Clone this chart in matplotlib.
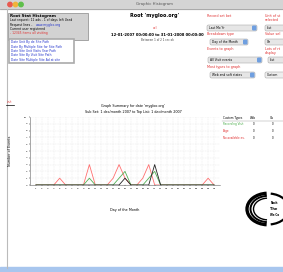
import numpy as np
import matplotlib.pyplot as plt
from matplotlib.patches import Rectangle, FancyBboxPatch, Arc, Circle

# chart data
days = list(range(1, 32))
page_visits = [0, 0, 0, 0, 1, 0, 0, 0, 0, 3, 0, 0, 0, 1, 3, 1, 0, 0, 1, 3,
               0, 0, 0, 0, 0, 0, 0, 0, 0, 1, 0]
recording_visits = [0, 0, 0, 0, 0, 0, 0, 0, 0, 1, 0, 0, 0, 0, 1, 2, 0, 0, 0, 1,
                    2, 0, 0, 0, 0, 0, 0, 0, 0, 0, 0]
other_visits = [0, 0, 0, 0, 0, 0, 0, 0, 0, 0, 0, 0, 0, 0, 0, 1, 0, 0, 0, 0,
                3, 0, 0, 0, 0, 0, 0, 0, 0, 0, 0]
y_ticks = list(range(0, 11))

legend_rows = ["Recording Visit", "Page", "No available ev."]
legend_colors = ["#44aa44", "#e03030", "#e03030"]
legend_web = ["0", "0", "0"]
legend_vis = ["0", "0", "0"]

left_links = ["Date Unit By de Site Path", "Date By Multiple Site for Site Path",
              "Date Site Unit Visits Year Path", "Date Site By Visit Site Path",
              "Date Site Multiple Site Ad at site"]

W, H = 283, 272
fig = plt.figure(figsize=(W / 100, H / 100), dpi=100)
bg = fig.add_axes([0, 0, 1, 1])
bg.set_xlim(0, W)
bg.set_ylim(H, 0)
bg.axis("off")

# window chrome
bg.add_patch(Rectangle((0, 0), W, 9, color="#d4d4d4", zorder=1))
bg.plot([0, W], [9, 9], color="#999999", lw=0.5)
for x, c in [(10, "#e8594f"), (15.5, "#f0b33c"), (21, "#5fbf4a")]:
    bg.add_patch(Circle((x, 4.5), 2.2, color=c, zorder=2))
bg.text(155, 4.5, "Graphic Histogram", fontsize=2.8, ha="center", va="center", color="#555555")
bg.plot([7, 7], [9, 268], color="#bbbbbb", lw=0.8)
bg.add_patch(Rectangle((0, 267), W, 5, color="#a8c6ee", zorder=1))

# top-left info box
bg.add_patch(Rectangle((8, 13), 80, 27, facecolor="#d2d2d2", edgecolor="#888888", lw=0.5))
bg.text(10, 16, "Root Stat Histogram", fontsize=2.9, weight="bold", va="center")
bg.text(10, 20.5, "Last request: 11 ads - 1 of days left Used", fontsize=2.2, va="center")
bg.text(10, 25, "Request lines -", fontsize=2.2, va="center")
bg.text(36, 25, "www.mygloo.org", fontsize=2.2, va="center", color="#2233cc")
bg.text(10, 29, "Current user registered", fontsize=2.2, va="center")
bg.text(10, 33, "- 12345 items all visiting", fontsize=2.2, va="center", color="#e03030")
bg.add_patch(Rectangle((9, 39), 65, 24, facecolor="white", edgecolor="#aaaaaa", lw=1.2))
for i, s in enumerate(left_links):
    bg.text(11, 42.5 + 4.3 * i, s, fontsize=2.2, va="center", color="#2233cc")

# centre heading
bg.text(155, 16, "Root 'mygloo.org'", fontsize=3.5, ha="center", va="center", weight="bold")
bg.text(155, 28, "url", fontsize=2.4, ha="center", va="center", color="#e03030")
bg.text(157, 35, "12-01-2007 00:00:00 to 31-01-2008 00:00:00", fontsize=2.7,
        ha="center", va="center", weight="bold")
bg.text(157, 40, "Between 1 of 2 1 rec ok", fontsize=2, ha="center", va="center", color="#444444")

# right-side controls
def dropdown(x0, x1, y0, label):
    bg.add_patch(FancyBboxPatch((x0, y0), x1 - x0, 6, boxstyle="round,pad=0,rounding_size=1.5",
                                facecolor="#e6e6e6", edgecolor="#aaaaaa", lw=0.4))
    bg.add_patch(FancyBboxPatch((x1 - 5, y0 + 0.5), 4.5, 5, boxstyle="round,pad=0,rounding_size=1.2",
                                facecolor="#6f9fe0", edgecolor="none"))
    bg.text(x0 + 2, y0 + 3, label, fontsize=2.2, va="center")

red = "#e03030"
bg.text(207, 16, "Record set bet", fontsize=2.4, va="center", color=red)
dropdown(207, 257, 25, "Last Mo Yr")
bg.text(207, 34, "Breakdown type", fontsize=2.4, va="center", color=red)
dropdown(210, 248, 39, "Day of the Month")
bg.text(207, 49, "Events to graph", fontsize=2.4, va="center", color=red)
dropdown(208, 262, 57, "All Visit events")
bg.text(207, 67, "Most types to graph", fontsize=2.4, va="center", color=red)
dropdown(210, 255, 72, "Web and soft states")

bg.text(265, 16, "Unit of st", fontsize=2.4, va="center", color=red)
bg.text(265, 20, "selected", fontsize=2.4, va="center", color=red)
dropdown(265, 290, 25, "List")
bg.text(265, 34, "Value sel", fontsize=2.4, va="center", color=red)
dropdown(265, 290, 39, "On")
bg.text(265, 49, "Lots of rt", fontsize=2.4, va="center", color=red)
bg.text(265, 53, "display", fontsize=2.4, va="center", color=red)
dropdown(268, 290, 57, "List")
bg.add_patch(FancyBboxPatch((265, 72), 25, 6, boxstyle="round,pad=0,rounding_size=1.5",
                            facecolor="#eeeeee", edgecolor="#aaaaaa", lw=0.4))
bg.text(267, 75, "Custom", fontsize=2.2, va="center")

# small legend key and chart titles
bg.text(10, 102, "visit", fontsize=1.9, color=red, ha="center", va="center")
bg.plot([6, 14], [105, 105], color="black", lw=0.5)
bg.text(133, 106, "Graph Summary for date 'mygloo.org'", fontsize=2.4, ha="center", va="center")
bg.text(133, 112, "Sub Set: 1 dec/month 2007 to Top List: 1 dec/month 2007", fontsize=2.4,
        ha="center", va="center")

# legend table at the right of the chart
bg.text(223, 118, "Custom Types", fontsize=2, va="center")
bg.text(250, 118, "Web", fontsize=2, va="center")
bg.text(270, 118, "Vis", fontsize=2, va="center")
bg.plot([222, 283], [120.5, 120.5], color="#999999", lw=0.3)
for i, name in enumerate(legend_rows):
    y = 124 + 7 * i
    bg.text(223, y, name, fontsize=2, va="center", color=legend_colors[i])
    bg.text(253, y, legend_web[i], fontsize=2, va="center")
    bg.text(272, y, legend_vis[i], fontsize=2, va="center")

# logo bottom right
for r, lw in [(21, 2.4), (17.5, 1.4), (14.5, 1.0)]:
    bg.add_patch(Arc((268, 209), 2 * r, 2 * r * 0.75, theta1=95, theta2=265, color="black", lw=lw))
bg.add_patch(Arc((268, 209), 42, 31, theta1=-80, theta2=80, color="black", lw=1.6))
bg.text(274, 203, "Nach", fontsize=1.9, weight="bold", ha="center", va="center")
bg.text(274, 209, "The", fontsize=2.6, weight="bold", ha="center", va="center")
bg.text(274, 215, "We Ca", fontsize=1.9, weight="bold", ha="center", va="center")

# the chart itself
ax = fig.add_axes([30 / W, 1 - 185 / H, 190 / W, 68 / H])
ax.plot(days, page_visits, color="#ff6f6f", lw=0.6)
ax.plot(days, recording_visits, color="#55b055", lw=0.6)
ax.plot(days, other_visits, color="#222222", lw=0.6)
ax.set_xlim(0, 32)
ax.set_ylim(0, 10)
ax.set_yticks(y_ticks)
ax.set_xticks(days)
ax.set_xticklabels([str(d) for d in days])
ax.tick_params(labelsize=1.7, length=1, width=0.3, pad=1)
ax.grid(True, color="#dddddd", lw=0.3, linestyle=(0, (2, 2)))
for s in ax.spines.values():
    s.set_linewidth(0.4)
    s.set_color("#666666")
ax.spines["top"].set_visible(False)
ax.spines["right"].set_visible(False)
ax.set_xlabel("Day of the Month", fontsize=2.4, labelpad=14)
ax.set_ylabel("Number of Events", fontsize=2.4, labelpad=9)

fig.savefig("out.png", dpi=100)
